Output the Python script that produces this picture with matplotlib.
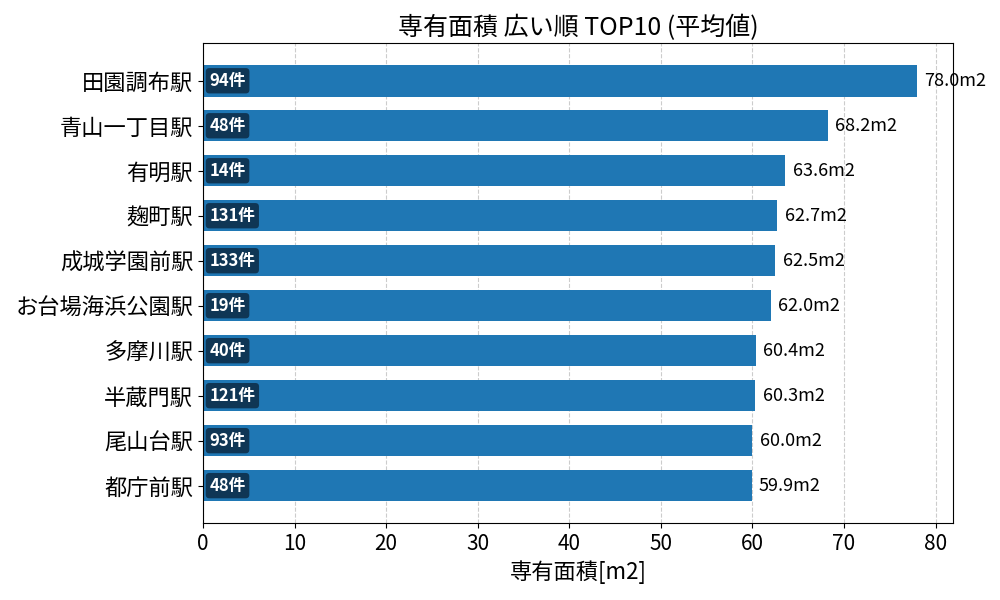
import matplotlib
matplotlib.use("Agg")
import matplotlib.pyplot as plt

plt.rcParams['font.family'] = ['Noto Sans CJK JP', 'DejaVu Sans']

stations = ["田園調布駅", "青山一丁目駅", "有明駅", "麹町駅", "成城学園前駅",
            "お台場海浜公園駅", "多摩川駅", "半蔵門駅", "尾山台駅", "都庁前駅"]
areas = [78.0, 68.2, 63.6, 62.7, 62.5, 62.0, 60.4, 60.3, 60.0, 59.9]
counts = [94, 48, 14, 131, 133, 19, 40, 121, 93, 48]

fig = plt.figure(figsize=(10, 6), dpi=100)
ax = fig.add_axes([0.203, 0.128, 0.750, 0.800])

y = list(range(len(stations)))
ax.barh(y, areas, height=0.7, color='#1f77b4', zorder=2)
ax.set_yticks(y)
ax.set_yticklabels(stations, fontsize=16)
ax.invert_yaxis()
ax.set_xlim(0, max(areas) * 1.05)
ax.tick_params(axis='x', labelsize=15)
ax.grid(axis='x', linestyle='--', color='#cccccc', zorder=0)
ax.set_axisbelow(True)

for yi, a, c in zip(y, areas, counts):
    ax.text(a + 0.8, yi, f"{a:.1f}m2", va='center', ha='left', fontsize=13)
    ax.text(0.7, yi, f"{c}件", va='center', ha='left', fontsize=12,
            fontweight='bold', color='white',
            bbox=dict(boxstyle='round,pad=0.22', facecolor='#0f3655',
                      edgecolor='none'), zorder=3)

ax.set_xlabel("専有面積[m2]", fontsize=16)
ax.set_title("専有面積 広い順 TOP10 (平均値)", fontsize=18)

fig.savefig("out.png", dpi=100)
